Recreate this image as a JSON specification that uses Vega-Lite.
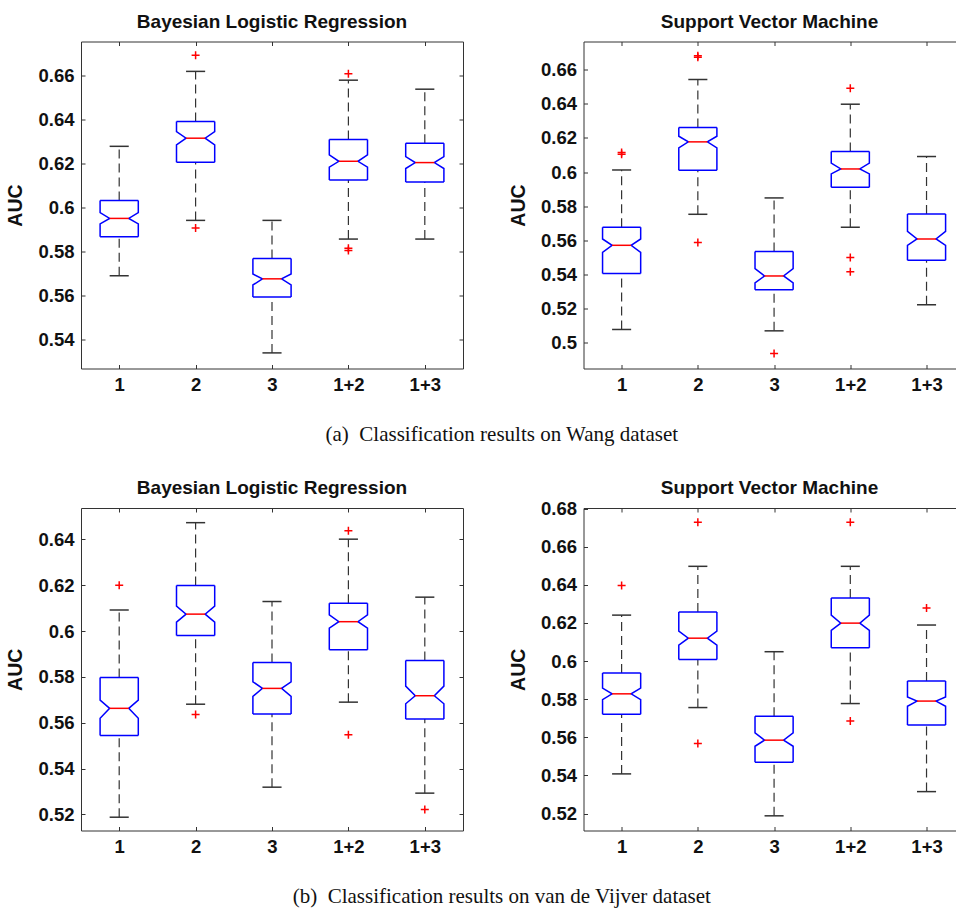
{
  "$schema": "https://vega.github.io/schema/vega-lite/v6.json",
  "padding": {"left": 5, "top": 12.5, "right": 0, "bottom": 0},
  "background": "white",
  "columns": 2,
  "bounds": "flush",
  "spacing": {"row": 139.5, "column": 120.5},
  "datasets": {
    "wb": [
      {"g": "1", "lo": 0.5690, "q1": 0.5868, "nlo": 0.5926, "med": 0.5951, "nhi": 0.5977, "q3": 0.6033, "hi": 0.6279},
      {"g": "2", "lo": 0.5942, "q1": 0.6207, "nlo": 0.6286, "med": 0.6316, "nhi": 0.6346, "q3": 0.6392, "hi": 0.6620},
      {"g": "3", "lo": 0.5339, "q1": 0.5593, "nlo": 0.5648, "med": 0.5676, "nhi": 0.5698, "q3": 0.5769, "hi": 0.5942},
      {"g": "1+2", "lo": 0.5857, "q1": 0.6126, "nlo": 0.6184, "med": 0.6211, "nhi": 0.6240, "q3": 0.6310, "hi": 0.6580},
      {"g": "1+3", "lo": 0.5857, "q1": 0.6117, "nlo": 0.6178, "med": 0.6205, "nhi": 0.6232, "q3": 0.6293, "hi": 0.6539}
    ],
    "wb_o": [
      {"g": "2", "v": 0.6693}, {"g": "2", "v": 0.5907},
      {"g": "1+2", "v": 0.6609}, {"g": "1+2", "v": 0.5815}, {"g": "1+2", "v": 0.5805}
    ],
    "ws": [
      {"g": "1", "lo": 0.5076, "q1": 0.5405, "nlo": 0.5529, "med": 0.5570, "nhi": 0.5607, "q3": 0.5676, "hi": 0.6012},
      {"g": "2", "lo": 0.5752, "q1": 0.6011, "nlo": 0.6142, "med": 0.6177, "nhi": 0.6210, "q3": 0.6261, "hi": 0.6543},
      {"g": "3", "lo": 0.5068, "q1": 0.5309, "nlo": 0.5350, "med": 0.5390, "nhi": 0.5433, "q3": 0.5533, "hi": 0.5848},
      {"g": "1+2", "lo": 0.5676, "q1": 0.5911, "nlo": 0.5989, "med": 0.6018, "nhi": 0.6052, "q3": 0.6120, "hi": 0.6398},
      {"g": "1+3", "lo": 0.5221, "q1": 0.5482, "nlo": 0.5570, "med": 0.5607, "nhi": 0.5652, "q3": 0.5754, "hi": 0.6091}
    ],
    "ws_o": [
      {"g": "1", "v": 0.6114}, {"g": "1", "v": 0.6104},
      {"g": "2", "v": 0.6682}, {"g": "2", "v": 0.6674}, {"g": "2", "v": 0.5587},
      {"g": "3", "v": 0.4935},
      {"g": "1+2", "v": 0.6492}, {"g": "1+2", "v": 0.5499}, {"g": "1+2", "v": 0.5415}
    ],
    "vb": [
      {"g": "1", "lo": 0.5188, "q1": 0.5545, "nlo": 0.5620, "med": 0.5663, "nhi": 0.5699, "q3": 0.5798, "hi": 0.6092},
      {"g": "2", "lo": 0.5681, "q1": 0.5981, "nlo": 0.6039, "med": 0.6074, "nhi": 0.6109, "q3": 0.6199, "hi": 0.6473},
      {"g": "3", "lo": 0.5319, "q1": 0.5638, "nlo": 0.5715, "med": 0.5750, "nhi": 0.5779, "q3": 0.5863, "hi": 0.6129},
      {"g": "1+2", "lo": 0.5690, "q1": 0.5919, "nlo": 0.6013, "med": 0.6041, "nhi": 0.6071, "q3": 0.6121, "hi": 0.6401},
      {"g": "1+3", "lo": 0.5293, "q1": 0.5616, "nlo": 0.5683, "med": 0.5718, "nhi": 0.5760, "q3": 0.5872, "hi": 0.6148}
    ],
    "vb_o": [
      {"g": "1", "v": 0.6200},
      {"g": "2", "v": 0.5636},
      {"g": "1+2", "v": 0.6438}, {"g": "1+2", "v": 0.5548},
      {"g": "1+3", "v": 0.5222}
    ],
    "vs": [
      {"g": "1", "lo": 0.5408, "q1": 0.5721, "nlo": 0.5798, "med": 0.5828, "nhi": 0.5858, "q3": 0.5937, "hi": 0.6241},
      {"g": "2", "lo": 0.5756, "q1": 0.6008, "nlo": 0.6084, "med": 0.6120, "nhi": 0.6157, "q3": 0.6257, "hi": 0.6497},
      {"g": "3", "lo": 0.5188, "q1": 0.5469, "nlo": 0.5553, "med": 0.5585, "nhi": 0.5623, "q3": 0.5711, "hi": 0.6049},
      {"g": "1+2", "lo": 0.5777, "q1": 0.6070, "nlo": 0.6161, "med": 0.6199, "nhi": 0.6241, "q3": 0.6331, "hi": 0.6497},
      {"g": "1+3", "lo": 0.5315, "q1": 0.5665, "nlo": 0.5763, "med": 0.5790, "nhi": 0.5812, "q3": 0.5896, "hi": 0.6189}
    ],
    "vs_o": [
      {"g": "1", "v": 0.6397},
      {"g": "2", "v": 0.6728}, {"g": "2", "v": 0.5567},
      {"g": "1+2", "v": 0.6728}, {"g": "1+2", "v": 0.5686},
      {"g": "1+3", "v": 0.6278}
    ]
  },
  "concat": [
    {
      "width": 382, "height": 327,
      "title": {"text": "Bayesian Logistic Regression", "offset": 9.5},
      "data": {"name": "wb"},
      "transform": [
        {"calculate": "indexof(['1','2','3','1+2','1+3'], datum.g) + 1", "as": "i"},
        {"calculate": "datum.i - 0.25", "as": "bl"},
        {"calculate": "datum.i + 0.25", "as": "br"},
        {"calculate": "datum.i - 0.125", "as": "ml"},
        {"calculate": "datum.i + 0.125", "as": "mr"}
      ],
      "layer": [
        {"mark": {"type": "rule", "color": "#333", "strokeWidth": 1.2, "strokeDash": [9, 5]},
         "encoding": {
           "x": {"field": "i", "type": "quantitative", "scale": {"domain": [0.5, 5.5], "nice": false, "zero": false},
                 "axis": {"orient": "bottom", "values": [1, 2, 3, 4, 5], "labelExpr": "['','1','2','3','1+2','1+3'][datum.value]",
                          "title": "(a)\u00a0 Classification results on Wang dataset", "titleX": 420.3, "titleY": 72.3,
                          "titleFont": "Liberation Serif", "titleFontSize": 21, "titleFontWeight": "normal", "titleAlign": "center", "titleBaseline": "alphabetic", "titleAngle": 0}},
           "y": {"field": "q3", "type": "quantitative", "scale": {"domain": [0.5268, 0.6756], "nice": false, "zero": false},
                 "axis": {"orient": "left", "values": [0.54, 0.56, 0.58, 0.6, 0.62, 0.64, 0.66], "format": ".2~f", "title": "AUC"}},
           "y2": {"field": "hi"}
         }},
        {"mark": {"type": "rule", "color": "#333", "strokeWidth": 1.2, "strokeDash": [9, 5]},
         "encoding": {
           "x": {"field": "i", "type": "quantitative", "axis": {"orient": "top", "values": [1, 2, 3, 4, 5], "labels": false, "title": null}},
           "y": {"field": "lo", "type": "quantitative", "axis": {"orient": "right", "values": [0.54, 0.56, 0.58, 0.6, 0.62, 0.64, 0.66], "labels": false, "title": null}},
           "y2": {"field": "q1"}
         }},
        {"mark": {"type": "rule", "color": "#333", "strokeWidth": 1.5},
         "encoding": {"x": {"field": "ml", "type": "quantitative", "axis": null}, "x2": {"field": "mr"}, "y": {"field": "hi", "type": "quantitative", "axis": null}}},
        {"mark": {"type": "rule", "color": "#333", "strokeWidth": 1.5},
         "encoding": {"x": {"field": "ml", "type": "quantitative", "axis": null}, "x2": {"field": "mr"}, "y": {"field": "lo", "type": "quantitative", "axis": null}}},
        {"mark": {"type": "rule", "color": "#0000ff", "strokeWidth": 1.5},
         "encoding": {"x": {"field": "bl", "type": "quantitative", "axis": null}, "x2": {"field": "br"}, "y": {"field": "q3", "type": "quantitative", "axis": null}}},
        {"mark": {"type": "rule", "color": "#0000ff", "strokeWidth": 1.5},
         "encoding": {"x": {"field": "bl", "type": "quantitative", "axis": null}, "x2": {"field": "br"}, "y": {"field": "q1", "type": "quantitative", "axis": null}}},
        {"transform": [{"fold": ["q1", "nlo", "med", "nhi", "q3"], "as": ["k", "v"]}, {"calculate": "datum.k == 'med' ? datum.ml : datum.bl", "as": "sx"}],
         "mark": {"type": "line", "color": "#0000ff", "strokeWidth": 1.5},
         "encoding": {"x": {"field": "sx", "type": "quantitative", "axis": null}, "y": {"field": "v", "type": "quantitative", "axis": null}, "detail": {"field": "g"}, "order": {"field": "v", "type": "quantitative"}}},
        {"transform": [{"fold": ["q1", "nlo", "med", "nhi", "q3"], "as": ["k", "v"]}, {"calculate": "datum.k == 'med' ? datum.mr : datum.br", "as": "sx"}],
         "mark": {"type": "line", "color": "#0000ff", "strokeWidth": 1.5},
         "encoding": {"x": {"field": "sx", "type": "quantitative", "axis": null}, "y": {"field": "v", "type": "quantitative", "axis": null}, "detail": {"field": "g"}, "order": {"field": "v", "type": "quantitative"}}},
        {"mark": {"type": "rule", "color": "#ff0000", "strokeWidth": 1.5},
         "encoding": {"x": {"field": "ml", "type": "quantitative", "axis": null}, "x2": {"field": "mr"}, "y": {"field": "med", "type": "quantitative", "axis": null}}},
        {"data": {"name": "wb_o"},
         "transform": [{"calculate": "indexof(['1','2','3','1+2','1+3'], datum.g) + 1", "as": "i"}],
         "mark": {"type": "point", "shape": "M-1,0L1,0M0,-1L0,1", "filled": false, "color": "#ff0000", "strokeWidth": 1.5, "size": 64, "opacity": 1},
         "encoding": {"x": {"field": "i", "type": "quantitative", "axis": null}, "y": {"field": "v", "type": "quantitative", "axis": null}}}
      ]
    },
    {
      "width": 372, "height": 327,
      "title": {"text": "Support Vector Machine", "offset": 9.5},
      "data": {"name": "ws"},
      "transform": [
        {"calculate": "indexof(['1','2','3','1+2','1+3'], datum.g) + 1", "as": "i"},
        {"calculate": "datum.i - 0.25", "as": "bl"},
        {"calculate": "datum.i + 0.25", "as": "br"},
        {"calculate": "datum.i - 0.125", "as": "ml"},
        {"calculate": "datum.i + 0.125", "as": "mr"}
      ],
      "layer": [
        {"mark": {"type": "rule", "color": "#333", "strokeWidth": 1.2, "strokeDash": [9, 5]},
         "encoding": {
           "x": {"field": "i", "type": "quantitative", "scale": {"domain": [0.5, 5.38], "nice": false, "zero": false},
                 "axis": {"orient": "bottom", "values": [1, 2, 3, 4, 5], "labelExpr": "['','1','2','3','1+2','1+3'][datum.value]", "title": null}},
           "y": {"field": "q3", "type": "quantitative", "scale": {"domain": [0.4847, 0.6766], "nice": false, "zero": false},
                 "axis": {"orient": "left", "values": [0.5, 0.52, 0.54, 0.56, 0.58, 0.6, 0.62, 0.64, 0.66], "format": ".2~f", "title": "AUC"}},
           "y2": {"field": "hi"}
         }},
        {"mark": {"type": "rule", "color": "#333", "strokeWidth": 1.2, "strokeDash": [9, 5]},
         "encoding": {
           "x": {"field": "i", "type": "quantitative", "axis": {"orient": "top", "values": [1, 2, 3, 4, 5], "labels": false, "title": null}},
           "y": {"field": "lo", "type": "quantitative", "axis": {"orient": "right", "domain": false, "ticks": false, "labels": false, "title": null}},
           "y2": {"field": "q1"}
         }},
        {"mark": {"type": "rule", "color": "#333", "strokeWidth": 1.5},
         "encoding": {"x": {"field": "ml", "type": "quantitative", "axis": null}, "x2": {"field": "mr"}, "y": {"field": "hi", "type": "quantitative", "axis": null}}},
        {"mark": {"type": "rule", "color": "#333", "strokeWidth": 1.5},
         "encoding": {"x": {"field": "ml", "type": "quantitative", "axis": null}, "x2": {"field": "mr"}, "y": {"field": "lo", "type": "quantitative", "axis": null}}},
        {"mark": {"type": "rule", "color": "#0000ff", "strokeWidth": 1.5},
         "encoding": {"x": {"field": "bl", "type": "quantitative", "axis": null}, "x2": {"field": "br"}, "y": {"field": "q3", "type": "quantitative", "axis": null}}},
        {"mark": {"type": "rule", "color": "#0000ff", "strokeWidth": 1.5},
         "encoding": {"x": {"field": "bl", "type": "quantitative", "axis": null}, "x2": {"field": "br"}, "y": {"field": "q1", "type": "quantitative", "axis": null}}},
        {"transform": [{"fold": ["q1", "nlo", "med", "nhi", "q3"], "as": ["k", "v"]}, {"calculate": "datum.k == 'med' ? datum.ml : datum.bl", "as": "sx"}],
         "mark": {"type": "line", "color": "#0000ff", "strokeWidth": 1.5},
         "encoding": {"x": {"field": "sx", "type": "quantitative", "axis": null}, "y": {"field": "v", "type": "quantitative", "axis": null}, "detail": {"field": "g"}, "order": {"field": "v", "type": "quantitative"}}},
        {"transform": [{"fold": ["q1", "nlo", "med", "nhi", "q3"], "as": ["k", "v"]}, {"calculate": "datum.k == 'med' ? datum.mr : datum.br", "as": "sx"}],
         "mark": {"type": "line", "color": "#0000ff", "strokeWidth": 1.5},
         "encoding": {"x": {"field": "sx", "type": "quantitative", "axis": null}, "y": {"field": "v", "type": "quantitative", "axis": null}, "detail": {"field": "g"}, "order": {"field": "v", "type": "quantitative"}}},
        {"mark": {"type": "rule", "color": "#ff0000", "strokeWidth": 1.5},
         "encoding": {"x": {"field": "ml", "type": "quantitative", "axis": null}, "x2": {"field": "mr"}, "y": {"field": "med", "type": "quantitative", "axis": null}}},
        {"data": {"name": "ws_o"},
         "transform": [{"calculate": "indexof(['1','2','3','1+2','1+3'], datum.g) + 1", "as": "i"}],
         "mark": {"type": "point", "shape": "M-1,0L1,0M0,-1L0,1", "filled": false, "color": "#ff0000", "strokeWidth": 1.5, "size": 64, "opacity": 1},
         "encoding": {"x": {"field": "i", "type": "quantitative", "axis": null}, "y": {"field": "v", "type": "quantitative", "axis": null}}}
      ]
    },
    {
      "width": 382, "height": 322.5,
      "title": {"text": "Bayesian Logistic Regression", "offset": 10},
      "data": {"name": "vb"},
      "transform": [
        {"calculate": "indexof(['1','2','3','1+2','1+3'], datum.g) + 1", "as": "i"},
        {"calculate": "datum.i - 0.25", "as": "bl"},
        {"calculate": "datum.i + 0.25", "as": "br"},
        {"calculate": "datum.i - 0.125", "as": "ml"},
        {"calculate": "datum.i + 0.125", "as": "mr"}
      ],
      "layer": [
        {"mark": {"type": "rule", "color": "#333", "strokeWidth": 1.2, "strokeDash": [9, 5]},
         "encoding": {
           "x": {"field": "i", "type": "quantitative", "scale": {"domain": [0.5, 5.5], "nice": false, "zero": false},
                 "axis": {"orient": "bottom", "values": [1, 2, 3, 4, 5], "labelExpr": "['','1','2','3','1+2','1+3'][datum.value]",
                          "title": "(b)\u00a0 Classification results on van de Vijver dataset", "titleX": 420.3, "titleY": 72.3,
                          "titleFont": "Liberation Serif", "titleFontSize": 21, "titleFontWeight": "normal", "titleAlign": "center", "titleBaseline": "alphabetic", "titleAngle": 0}},
           "y": {"field": "q3", "type": "quantitative", "scale": {"domain": [0.5130, 0.6537], "nice": false, "zero": false},
                 "axis": {"orient": "left", "values": [0.52, 0.54, 0.56, 0.58, 0.6, 0.62, 0.64], "format": ".2~f", "title": "AUC"}},
           "y2": {"field": "hi"}
         }},
        {"mark": {"type": "rule", "color": "#333", "strokeWidth": 1.2, "strokeDash": [9, 5]},
         "encoding": {
           "x": {"field": "i", "type": "quantitative", "axis": {"orient": "top", "values": [1, 2, 3, 4, 5], "labels": false, "title": null}},
           "y": {"field": "lo", "type": "quantitative", "axis": {"orient": "right", "values": [0.52, 0.54, 0.56, 0.58, 0.6, 0.62, 0.64], "labels": false, "title": null}},
           "y2": {"field": "q1"}
         }},
        {"mark": {"type": "rule", "color": "#333", "strokeWidth": 1.5},
         "encoding": {"x": {"field": "ml", "type": "quantitative", "axis": null}, "x2": {"field": "mr"}, "y": {"field": "hi", "type": "quantitative", "axis": null}}},
        {"mark": {"type": "rule", "color": "#333", "strokeWidth": 1.5},
         "encoding": {"x": {"field": "ml", "type": "quantitative", "axis": null}, "x2": {"field": "mr"}, "y": {"field": "lo", "type": "quantitative", "axis": null}}},
        {"mark": {"type": "rule", "color": "#0000ff", "strokeWidth": 1.5},
         "encoding": {"x": {"field": "bl", "type": "quantitative", "axis": null}, "x2": {"field": "br"}, "y": {"field": "q3", "type": "quantitative", "axis": null}}},
        {"mark": {"type": "rule", "color": "#0000ff", "strokeWidth": 1.5},
         "encoding": {"x": {"field": "bl", "type": "quantitative", "axis": null}, "x2": {"field": "br"}, "y": {"field": "q1", "type": "quantitative", "axis": null}}},
        {"transform": [{"fold": ["q1", "nlo", "med", "nhi", "q3"], "as": ["k", "v"]}, {"calculate": "datum.k == 'med' ? datum.ml : datum.bl", "as": "sx"}],
         "mark": {"type": "line", "color": "#0000ff", "strokeWidth": 1.5},
         "encoding": {"x": {"field": "sx", "type": "quantitative", "axis": null}, "y": {"field": "v", "type": "quantitative", "axis": null}, "detail": {"field": "g"}, "order": {"field": "v", "type": "quantitative"}}},
        {"transform": [{"fold": ["q1", "nlo", "med", "nhi", "q3"], "as": ["k", "v"]}, {"calculate": "datum.k == 'med' ? datum.mr : datum.br", "as": "sx"}],
         "mark": {"type": "line", "color": "#0000ff", "strokeWidth": 1.5},
         "encoding": {"x": {"field": "sx", "type": "quantitative", "axis": null}, "y": {"field": "v", "type": "quantitative", "axis": null}, "detail": {"field": "g"}, "order": {"field": "v", "type": "quantitative"}}},
        {"mark": {"type": "rule", "color": "#ff0000", "strokeWidth": 1.5},
         "encoding": {"x": {"field": "ml", "type": "quantitative", "axis": null}, "x2": {"field": "mr"}, "y": {"field": "med", "type": "quantitative", "axis": null}}},
        {"data": {"name": "vb_o"},
         "transform": [{"calculate": "indexof(['1','2','3','1+2','1+3'], datum.g) + 1", "as": "i"}],
         "mark": {"type": "point", "shape": "M-1,0L1,0M0,-1L0,1", "filled": false, "color": "#ff0000", "strokeWidth": 1.5, "size": 64, "opacity": 1},
         "encoding": {"x": {"field": "i", "type": "quantitative", "axis": null}, "y": {"field": "v", "type": "quantitative", "axis": null}}}
      ]
    },
    {
      "width": 372, "height": 322.5,
      "title": {"text": "Support Vector Machine", "offset": 2},
      "data": {"name": "vs"},
      "transform": [
        {"calculate": "indexof(['1','2','3','1+2','1+3'], datum.g) + 1", "as": "i"},
        {"calculate": "datum.i - 0.25", "as": "bl"},
        {"calculate": "datum.i + 0.25", "as": "br"},
        {"calculate": "datum.i - 0.125", "as": "ml"},
        {"calculate": "datum.i + 0.125", "as": "mr"}
      ],
      "layer": [
        {"mark": {"type": "rule", "color": "#333", "strokeWidth": 1.2, "strokeDash": [9, 5]},
         "encoding": {
           "x": {"field": "i", "type": "quantitative", "scale": {"domain": [0.5, 5.38], "nice": false, "zero": false},
                 "axis": {"orient": "bottom", "values": [1, 2, 3, 4, 5], "labelExpr": "['','1','2','3','1+2','1+3'][datum.value]", "title": null}},
           "y": {"field": "q3", "type": "quantitative", "scale": {"domain": [0.5111, 0.6803], "nice": false, "zero": false},
                 "axis": {"orient": "left", "values": [0.52, 0.54, 0.56, 0.58, 0.6, 0.62, 0.64, 0.66, 0.68], "format": ".2~f", "title": "AUC"}},
           "y2": {"field": "hi"}
         }},
        {"mark": {"type": "rule", "color": "#333", "strokeWidth": 1.2, "strokeDash": [9, 5]},
         "encoding": {
           "x": {"field": "i", "type": "quantitative", "axis": {"orient": "top", "values": [1, 2, 3, 4, 5], "labels": false, "title": null}},
           "y": {"field": "lo", "type": "quantitative", "axis": {"orient": "right", "domain": false, "ticks": false, "labels": false, "title": null}},
           "y2": {"field": "q1"}
         }},
        {"mark": {"type": "rule", "color": "#333", "strokeWidth": 1.5},
         "encoding": {"x": {"field": "ml", "type": "quantitative", "axis": null}, "x2": {"field": "mr"}, "y": {"field": "hi", "type": "quantitative", "axis": null}}},
        {"mark": {"type": "rule", "color": "#333", "strokeWidth": 1.5},
         "encoding": {"x": {"field": "ml", "type": "quantitative", "axis": null}, "x2": {"field": "mr"}, "y": {"field": "lo", "type": "quantitative", "axis": null}}},
        {"mark": {"type": "rule", "color": "#0000ff", "strokeWidth": 1.5},
         "encoding": {"x": {"field": "bl", "type": "quantitative", "axis": null}, "x2": {"field": "br"}, "y": {"field": "q3", "type": "quantitative", "axis": null}}},
        {"mark": {"type": "rule", "color": "#0000ff", "strokeWidth": 1.5},
         "encoding": {"x": {"field": "bl", "type": "quantitative", "axis": null}, "x2": {"field": "br"}, "y": {"field": "q1", "type": "quantitative", "axis": null}}},
        {"transform": [{"fold": ["q1", "nlo", "med", "nhi", "q3"], "as": ["k", "v"]}, {"calculate": "datum.k == 'med' ? datum.ml : datum.bl", "as": "sx"}],
         "mark": {"type": "line", "color": "#0000ff", "strokeWidth": 1.5},
         "encoding": {"x": {"field": "sx", "type": "quantitative", "axis": null}, "y": {"field": "v", "type": "quantitative", "axis": null}, "detail": {"field": "g"}, "order": {"field": "v", "type": "quantitative"}}},
        {"transform": [{"fold": ["q1", "nlo", "med", "nhi", "q3"], "as": ["k", "v"]}, {"calculate": "datum.k == 'med' ? datum.mr : datum.br", "as": "sx"}],
         "mark": {"type": "line", "color": "#0000ff", "strokeWidth": 1.5},
         "encoding": {"x": {"field": "sx", "type": "quantitative", "axis": null}, "y": {"field": "v", "type": "quantitative", "axis": null}, "detail": {"field": "g"}, "order": {"field": "v", "type": "quantitative"}}},
        {"mark": {"type": "rule", "color": "#ff0000", "strokeWidth": 1.5},
         "encoding": {"x": {"field": "ml", "type": "quantitative", "axis": null}, "x2": {"field": "mr"}, "y": {"field": "med", "type": "quantitative", "axis": null}}},
        {"data": {"name": "vs_o"},
         "transform": [{"calculate": "indexof(['1','2','3','1+2','1+3'], datum.g) + 1", "as": "i"}],
         "mark": {"type": "point", "shape": "M-1,0L1,0M0,-1L0,1", "filled": false, "color": "#ff0000", "strokeWidth": 1.5, "size": 64, "opacity": 1},
         "encoding": {"x": {"field": "i", "type": "quantitative", "axis": null}, "y": {"field": "v", "type": "quantitative", "axis": null}}}
      ]
    }
  ],
  "config": {
    "view": {"stroke": null},
    "font": "Liberation Sans",
    "title": {"font": "Liberation Sans", "fontSize": 19, "fontWeight": "bold", "color": "#111", "frame": "group", "baseline": "alphabetic", "anchor": "middle"},
    "axis": {
      "grid": false, "domainColor": "#333", "domainWidth": 1, "tickColor": "#333", "tickWidth": 1, "tickSize": -4,
      "labelFont": "Liberation Sans", "labelFontSize": 18.5, "labelFontWeight": "bold", "labelColor": "#111",
      "titleFont": "Liberation Sans", "titleFontSize": 19.5, "titleFontWeight": "bold", "titleColor": "#111",
      "labelFlush": false, "labelOverlap": false
    },
    "axisBottom": {"labelPadding": 10.5},
    "axisLeft": {"labelPadding": 11, "titlePadding": 12}
  }
}
